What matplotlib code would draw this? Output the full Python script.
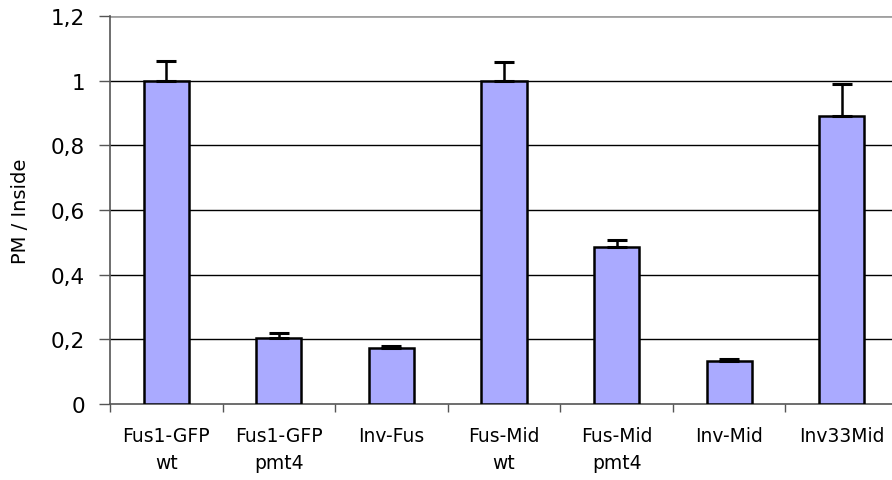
import matplotlib.pyplot as plt
import numpy as np

# data
categories = ["Fus1-GFP\nwt", "Fus1-GFP\npmt4", "Inv-Fus", "Fus-Mid\nwt",
              "Fus-Mid\npmt4", "Inv-Mid", "Inv33Mid"]
values = [1.0, 0.203, 0.172, 1.0, 0.485, 0.133, 0.89]
errors = [0.062, 0.016, 0.007, 0.057, 0.023, 0.005, 0.1]
yticks = [0, 0.2, 0.4, 0.6, 0.8, 1.0, 1.2]
ytick_labels = ["0", "0,2", "0,4", "0,6", "0,8", "1", "1,2"]

fig = plt.figure(figsize=(8.92, 4.81), dpi=100)
# axes runs a bit past the right edge, as in the reference
ax = fig.add_axes([110 / 892, 76 / 481, 788 / 892, 388 / 481])

x = np.arange(len(categories))
ax.bar(x, values, width=0.4, color="#AAAAFF", edgecolor="black",
       linewidth=1.8, zorder=3)
ax.errorbar(x, values, yerr=[np.zeros(len(errors)), errors], fmt="none",
            ecolor="black", elinewidth=1.8, capsize=7.2, capthick=2.2,
            zorder=4)

ax.set_xlim(-0.5, len(categories) - 0.5)
ax.set_ylim(0, 1.2)
ax.set_yticks(yticks)
ax.set_yticklabels(ytick_labels, fontsize=15.5)
ax.set_xticks(x)
ax.set_xticklabels(categories, fontsize=13.5, linespacing=1.55)
ax.set_xticks(np.arange(len(categories) + 1) - 0.5, minor=True)
ax.tick_params(axis="x", which="major", length=0, pad=16)
ax.tick_params(axis="x", which="minor", length=6, width=1, color="#555555",
               direction="out")
ax.tick_params(axis="y", length=8, width=1, color="#555555", pad=10)

for y in yticks[1:-1]:
    ax.axhline(y, color="black", linewidth=1, zorder=1)
ax.axhline(1.2, color="#A0A0A0", linewidth=2, zorder=1)

for s in ["top", "right"]:
    ax.spines[s].set_visible(False)
ax.spines["left"].set_color("#555555")
ax.spines["left"].set_linewidth(1.2)
ax.spines["bottom"].set_color("#555555")
ax.spines["bottom"].set_linewidth(1.2)

ax.set_ylabel("PM / Inside", fontsize=14, labelpad=15)

fig.savefig("out.png", dpi=100)
